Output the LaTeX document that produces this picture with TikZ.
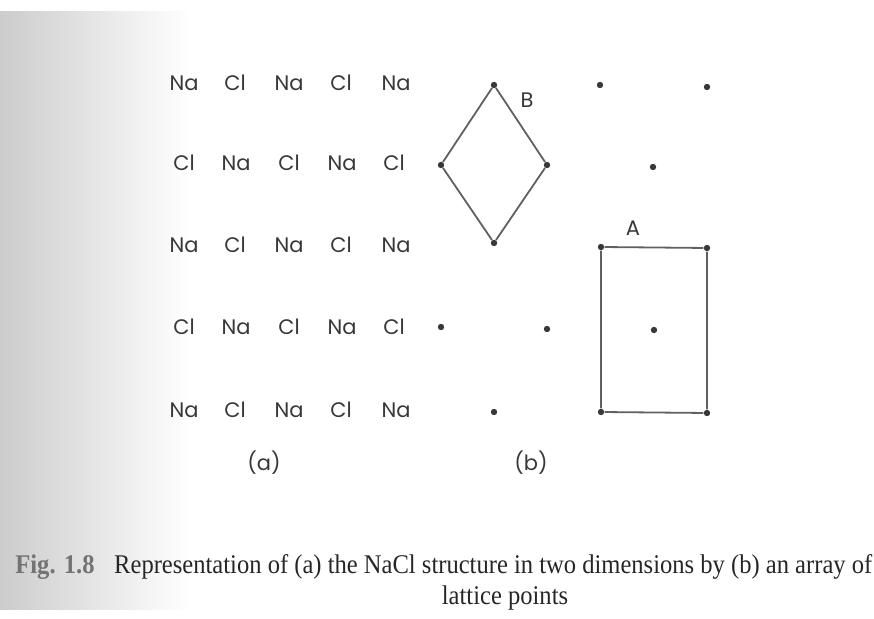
\documentclass[tikz,border=0pt]{standalone}
\usepackage{fontspec}
\setmainfont{Liberation Serif}
\newfontfamily\ionfont{Poppins}
\usetikzlibrary{calc}
\definecolor{ink}{gray}{0.22}
\definecolor{pageshade}{gray}{0.80}
\newcommand{\narrow}[1]{\scalebox{0.91}[1]{#1}}
\tikzset{
  ion/.style={font=\ionfont\fontsize{10.5}{12}\selectfont, text=ink, inner sep=0pt},
  lpoint/.style={circle, fill=ink, inner sep=0pt, minimum size=3.2pt},
  cell/.style={draw=ink!80, line width=0.9pt},
  tag/.style={font=\ionfont\fontsize{10.5}{12}\selectfont, text=ink, inner sep=0pt},
  captext/.style={font=\fontsize{13.5}{15}\selectfont, text=black!85, inner sep=0pt}
}

\begin{document}
\begin{tikzpicture}[x=0.5pt, y=-0.5pt]
  \useasboundingbox (0,0) rectangle (874,619);
  \shade[left color=pageshade, right color=white] (0,12) rectangle (190,610);
  % (a) the ions
  \node[ion] (r1c1) at (184,83) {Na};
  \node[ion] (r1c2) at (235,83) {Cl};
  \node[ion] (r1c3) at (289,83) {Na};
  \node[ion] (r1c4) at (341,83) {Cl};
  \node[ion] (r1c5) at (396,83) {Na};
  \node[ion] (r2c1) at (184,163) {Cl};
  \node[ion] (r2c2) at (236,163) {Na};
  \node[ion] (r2c3) at (289,163) {Cl};
  \node[ion] (r2c4) at (342,163) {Na};
  \node[ion] (r2c5) at (394,163) {Cl};
  \node[ion] (r3c1) at (184,245) {Na};
  \node[ion] (r3c2) at (235,245) {Cl};
  \node[ion] (r3c3) at (289,245) {Na};
  \node[ion] (r3c4) at (341,245) {Cl};
  \node[ion] (r3c5) at (396,245) {Na};
  \node[ion] (r4c1) at (184,327) {Cl};
  \node[ion] (r4c2) at (236,327) {Na};
  \node[ion] (r4c3) at (289,327) {Cl};
  \node[ion] (r4c4) at (342,327) {Na};
  \node[ion] (r4c5) at (394,327) {Cl};
  \node[ion] (r5c1) at (184,410) {Na};
  \node[ion] (r5c2) at (235,410) {Cl};
  \node[ion] (r5c3) at (289,410) {Na};
  \node[ion] (r5c4) at (341,410) {Cl};
  \node[ion] (r5c5) at (396,410) {Na};
  \node[tag] (capa) at (264,463) {(a)};
  % (b) the lattice points
  \node[lpoint] (p11) at (494,85) {};
  \node[lpoint] (p12) at (600,85) {};
  \node[lpoint] (p13) at (707,87) {};
  \node[lpoint] (p21) at (441,165) {};
  \node[lpoint] (p22) at (547,165) {};
  \node[lpoint] (p23) at (653,167) {};
  \node[lpoint] (p31) at (494,243) {};
  \node[lpoint] (p32) at (601,247) {};
  \node[lpoint] (p33) at (707,248) {};
  \node[lpoint] (p41) at (441,327) {};
  \node[lpoint] (p42) at (547,329) {};
  \node[lpoint] (p43) at (654,330) {};
  \node[lpoint] (p51) at (494,412) {};
  \node[lpoint] (p52) at (601,412) {};
  \node[lpoint] (p53) at (707,413) {};
  \draw[cell] (p11) -- (p22) -- (p31) -- (p21) -- (p11);
  \draw[cell] (p32) -- (p33) -- (p53) -- (p52) -- (p32);
  \node[tag] (lblB) at (527,100) {B};
  \node[tag] (lblA) at (633,228) {A};
  \node[tag] (capb) at (531,463) {(b)};
  % caption
  \node[captext, anchor=west] (fig) at (15,567) {\narrow{{\bfseries\color{black!55}Fig. 1.8}\hspace{0.8em}Representation of (a) the NaCl structure in two dimensions by (b) an array of}};
  \node[captext] (fig2) at (505,598) {\narrow{lattice points}};
\end{tikzpicture}
\end{document}
